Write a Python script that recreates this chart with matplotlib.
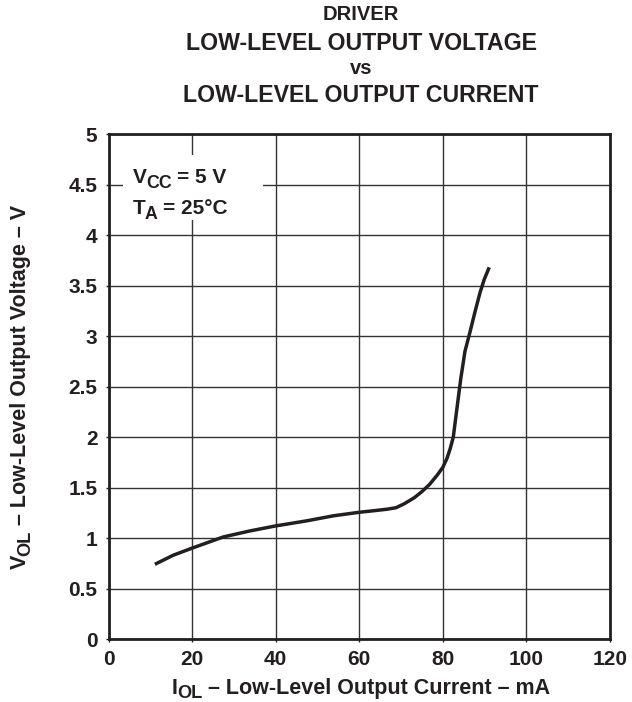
import numpy as np
import matplotlib
matplotlib.use("Agg")
import matplotlib.pyplot as plt
from matplotlib.patches import Rectangle

plt.rcParams['font.family'] = ['Liberation Sans', 'DejaVu Sans']
plt.rcParams['font.weight'] = 'bold'

# curve (mA, V)
i_ol = [11.1, 15.5, 20.0, 27.4, 33.8, 40.0, 47.4, 53.8, 60.0, 63.4, 66.6,
        68.8, 70.8, 73.2, 75.0, 76.8, 78.6, 80.0, 81.0, 81.8, 82.5, 83.3,
        84.3, 85.3, 86.5, 87.7, 88.9, 89.9, 91.1]
v_ol = [0.74, 0.83, 0.90, 1.01, 1.07, 1.12, 1.17, 1.22, 1.255, 1.27, 1.285,
        1.30, 1.34, 1.40, 1.46, 1.53, 1.62, 1.70, 1.79, 1.89, 2.00, 2.26,
        2.58, 2.85, 3.04, 3.24, 3.43, 3.56, 3.68]

x_ticks = [0, 20, 40, 60, 80, 100, 120]
y_ticks = [0, 0.5, 1, 1.5, 2, 2.5, 3, 3.5, 4, 4.5, 5]
y_labels = ['0', '0.5', '1', '1.5', '2', '2.5', '3', '3.5', '4', '4.5', '5']

title_lines = ["DRIVER", "LOW-LEVEL OUTPUT VOLTAGE", "vs",
               "LOW-LEVEL OUTPUT CURRENT"]

INK = '#231f20'
W, H = 632, 702

fig = plt.figure(figsize=(6.32, 7.02), dpi=100)
ax = fig.add_axes([0.1717, 0.0897, 0.7935, 0.7194])
renderer = fig.canvas.get_renderer()


def rich_text(x, y, parts, fs, rot=0, sub_scale=0.85, sub_drop=0.22):
    # x, y: start of baseline in pixels, origin top-left
    # parts: (text, is_subscript, gap before in em)
    em = fs * 100 / 72
    pos = 0.0
    for s, sub, gap in parts:
        pos += gap * em
        size = fs * sub_scale if sub else fs
        drop = sub_drop * em if sub else 0.0
        if rot == 0:
            px, py = x + pos, y + drop
        else:
            px, py = x + drop, y - pos
        t = fig.text(px / W, 1 - py / H, s, fontsize=size, fontweight='bold',
                     rotation=rot, rotation_mode='anchor', ha='left',
                     va='baseline', color=INK, zorder=5)
        bb = t.get_window_extent(renderer)
        pos += bb.width if rot == 0 else bb.height


ax.plot(i_ol, v_ol, color=INK, linewidth=2.5, zorder=3,
        solid_capstyle='butt', solid_joinstyle='round')

ax.set_xlim(0, 120)
ax.set_ylim(0, 5)
ax.set_xticks(x_ticks)
ax.set_yticks(y_ticks)
ax.set_yticklabels(y_labels)
ax.set_axisbelow(True)
ax.grid(True, color='#333333', linewidth=1.0)
ax.tick_params(axis='both', length=2, width=1, labelsize=15, pad=6,
               colors=INK)
for lab in ax.get_xticklabels() + ax.get_yticklabels():
    lab.set_fontweight('bold')
for sp in ax.spines.values():
    sp.set_linewidth(2.0)
    sp.set_color(INK)

# white box behind the conditions text
ax.add_patch(Rectangle((3.5, 4.15), 33.5, 0.64, facecolor='white',
                       edgecolor='none', zorder=1.5))

rich_text(133, 183, [("V", False, 0), ("CC", True, -0.05),
                     ("= 5 V", False, 0.24)], 15)
rich_text(133, 214, [("T", False, 0), ("A", True, -0.05),
                     ("= 25°C", False, 0.24)], 15)

# axis labels
rich_text(172, 694, [("I", False, 0), ("OL", True, -0.03),
                     ("– Low-Level Output Current – mA", False, 0.26)], 15.5,
          sub_drop=0.18)
rich_text(26, 569, [("V", False, 0), ("OL", True, -0.05),
                    ("– Low-Level Output Voltage – V", False, 0.26)], 15.5,
          rot=90)

title_y = [15, 43, 69, 96]
title_size = [14.5, 16.7, 14.5, 16.7]
for txt, yp, fs in zip(title_lines, title_y, title_size):
    fig.text(361 / W, 1 - yp / H, txt, ha='center', va='center',
             fontsize=fs, fontweight='bold', color=INK)

fig.savefig("out.png", dpi=100)
